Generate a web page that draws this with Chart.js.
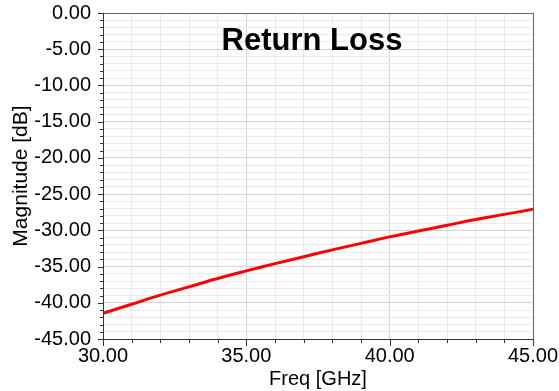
<!DOCTYPE html>
<html>
<head>
<meta charset="utf-8">
<script src="https://cdn.jsdelivr.net/npm/chart.js@4/dist/chart.umd.min.js"></script>
<style>
  html, body { margin: 0; padding: 0; background: #ffffff; }
  #wrap { position: relative; width: 559px; height: 391px; }
</style>
</head>
<body>
<div id="wrap"><canvas id="c" width="559" height="391"></canvas></div>
<script>
const chartTitle = "Return Loss";
const xAxisTitle = "Freq [GHz]";
const yAxisTitle = "Magnitude [dB]";
const freqGHz = [30, 31, 32, 33, 34, 35, 36, 37, 38, 39, 40, 41, 42, 43, 44, 45];
const returnLossDb = [-41.45, -40.2, -38.95, -37.8, -36.65, -35.6, -34.6, -33.65, -32.7, -31.8, -30.9, -30.1, -29.3, -28.5, -27.8, -27.1];
const xRange = [30, 45];
const yRange = [-45, 0];

const points = freqGHz.map((f, i) => ({ x: f, y: returnLossDb[i] }));
const FONT = "'Liberation Sans', Arial, sans-serif";

const framePlugin = {
  id: 'frame',
  afterDatasetsDraw(chart) {
    const { ctx, chartArea: a, scales } = chart;
    ctx.save();
    ctx.strokeStyle = '#666666';
    ctx.lineWidth = 1;
    ctx.strokeRect(Math.round(a.left) + 0.5, Math.round(a.top) + 0.5, Math.round(a.right - a.left), Math.round(a.bottom - a.top));
    ctx.strokeStyle = '#333333';
    ctx.beginPath();
    ctx.moveTo(Math.round(a.left) + 0.5, a.top);
    ctx.lineTo(Math.round(a.left) + 0.5, a.bottom + 0.5);
    ctx.lineTo(a.right, Math.round(a.bottom) + 0.5);
    ctx.stroke();
    ctx.beginPath();
    scales.y.ticks.forEach(t => {
      const y = Math.round(scales.y.getPixelForValue(t.value)) + 0.5;
      const len = (Math.round(t.value) % 5 === 0) ? 5 : 3;
      ctx.moveTo(Math.round(a.left) - len, y);
      ctx.lineTo(Math.round(a.left), y);
    });
    scales.x.ticks.forEach(t => {
      const x = Math.round(scales.x.getPixelForValue(t.value)) + 0.5;
      const len = (Math.round(t.value) % 5 === 0) ? 6 : 3;
      ctx.moveTo(x, Math.round(a.bottom) + 1);
      ctx.lineTo(x, Math.round(a.bottom) + 1 + len);
    });
    ctx.stroke();
    ctx.fillStyle = '#000000';
    ctx.font = "bold 31px " + FONT;
    ctx.textAlign = 'center';
    ctx.textBaseline = 'alphabetic';
    ctx.fillText(chartTitle, (a.left + a.right) / 2 - 6, a.top + 37);
    ctx.restore();
  }
};

new Chart(document.getElementById('c'), {
  type: 'line',
  data: {
    datasets: [{
      data: points,
      borderColor: '#ff0000',
      borderWidth: 3,
      pointRadius: 0,
      tension: 0.4,
      fill: false
    }]
  },
  options: {
    responsive: false,
    animation: false,
    devicePixelRatio: 1,
    layout: { padding: { left: 9, top: 13, right: 26, bottom: 0 } },
    plugins: { legend: { display: false }, tooltip: { enabled: false }, title: { display: false } },
    scales: {
      x: {
        type: 'linear',
        min: xRange[0], max: xRange[1],
        afterFit(s) { s.height = 52; s.paddingLeft = 0; s.paddingRight = 0; },
        border: { display: false },
        grid: {
          drawTicks: false,
          color: ctx => (Math.round(ctx.tick.value) % 5 === 0 ? '#d2d2d2' : '#eaeaea'),
          lineWidth: 1
        },
        ticks: {
          stepSize: 1,
          autoSkip: false,
          maxRotation: 0,
          padding: 5,
          color: '#000000',
          font: { family: FONT, size: 20 },
          callback: v => (Math.round(v) % 5 === 0 ? Number(v).toFixed(2) : '')
        },
        title: {
          display: true,
          text: xAxisTitle,
          color: '#000000',
          font: { family: FONT, size: 20 },
          padding: { top: 0, bottom: 0 }
        }
      },
      y: {
        type: 'linear',
        min: yRange[0], max: yRange[1],
        afterFit(s) { s.width = 94; s.paddingTop = 0; s.paddingBottom = 0; },
        border: { display: false },
        grid: {
          drawTicks: false,
          color: ctx => (Math.round(ctx.tick.value) % 5 === 0 ? '#d2d2d2' : '#eaeaea'),
          lineWidth: 1
        },
        ticks: {
          stepSize: 1,
          autoSkip: false,
          padding: 12,
          color: '#000000',
          font: { family: FONT, size: 20 },
          callback: v => (Math.round(v) % 5 === 0 ? Number(v).toFixed(2) : '')
        },
        title: {
          display: true,
          text: yAxisTitle,
          color: '#000000',
          font: { family: FONT, size: 21 },
          padding: { top: 0, bottom: 0 }
        }
      }
    }
  },
  plugins: [framePlugin]
});
</script>
</body>
</html>
